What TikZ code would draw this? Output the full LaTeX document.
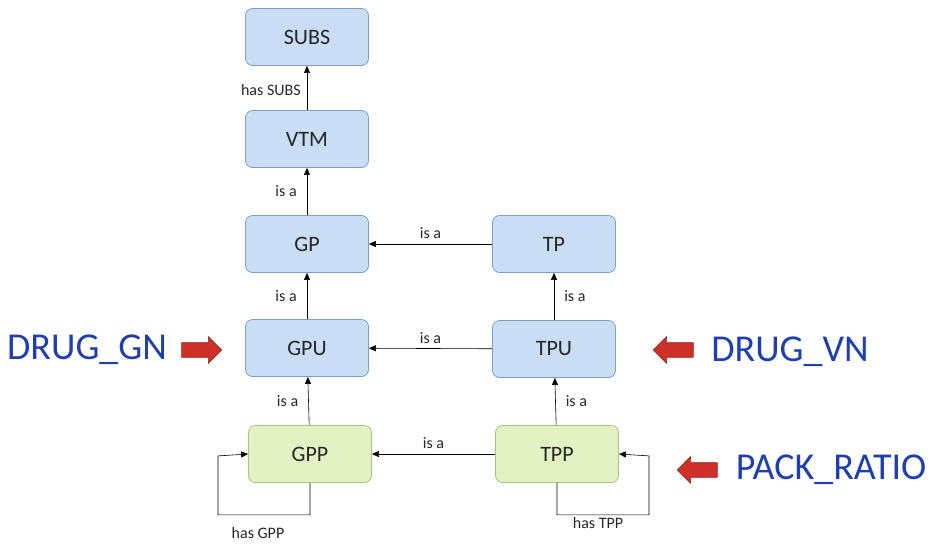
\documentclass[tikz,border=0pt]{standalone}
\usepackage{fontspec}
\setmainfont{Carlito}
\usepackage{tikz}
\usetikzlibrary{arrows.meta,positioning,shapes.arrows}

\definecolor{boxblue}{HTML}{C9DDF5}
\definecolor{lineblue}{HTML}{7E9FC6}
\definecolor{boxgreen}{HTML}{E3F2C2}
\definecolor{linegreen}{HTML}{A9C47E}
\definecolor{tagblue}{HTML}{1F3FAE}
\definecolor{arrred}{HTML}{D0302A}

\begin{document}
\begin{tikzpicture}[
    x=1pt, y=-1pt,
    box/.style={rectangle, draw=lineblue, fill=boxblue, minimum width=123pt,
                minimum height=57pt, font=\fontsize{22}{26}\selectfont,
                text=black!85, rounded corners=7pt, thick},
    pack/.style={box, draw=linegreen, fill=boxgreen},
    rel/.style={font=\fontsize{16}{19}\selectfont, text=black!85, inner sep=2pt},
    tag/.style={font=\fontsize{38}{44}\selectfont, text=tagblue},
    hint/.style={single arrow, fill=arrred, draw=arrred!70!black,
                 minimum height=40pt, inner xsep=2pt, inner ysep=7pt,
                 single arrow head extend=6pt, single arrow tip angle=90},
    >={Triangle[length=7pt,width=6pt]},
    every path/.append style={semithick}
]
\useasboundingbox (0,0) rectangle (934,547);

% --- Left column ---
\node[box] (subs) at (307,37)  {SUBS};
\node[box] (vtm)  at (307,139) {VTM};
\node[box] (gp)   at (307,244) {GP};
\node[box] (gpu)  at (307,348) {GPU};
\node[pack] (gpp) at (310,454) {GPP};

% --- Right column ---
\node[box] (tp)   at (554,244) {TP};
\node[box] (tpu)  at (554,349) {TPU};
\node[pack] (tpp) at (557,454) {TPP};

% --- Vertical edges ---
\draw[->] (vtm) -- node[rel, left=4pt, pos=0.45] {has SUBS} (subs);
\draw[->] (gp) -- node[rel, left=8pt] {is a} (vtm);
\draw[->] (gpu) -- node[rel, left=8pt] {is a} (gp);
\draw[->] (gpp) -- node[rel, left=8pt] {is a} (gpu);
\draw[->] (tpu) -- node[rel, right=8pt] {is a} (tp);
\draw[->] (tpp) -- node[rel, right=8pt] {is a} (tpu);

% --- Horizontal edges ---
\draw[->] (tp) -- node[rel, above=3pt] {is a} (gp);
\draw[->] (tpu) -- node[rel, above=3pt] {is a} (gpu);
\draw[->] (tpp) -- node[rel, above=3pt] {is a} (gpp);

% --- Self loops ---
\draw[->] (gpp.south) -- ++(0,32) -| ++(-92,-59) node[coordinate] (gl) {} -- (gpp.west);
\node[rel] (hasgpp) at (258,533) {has GPP};
\draw[->] (tpp.south) -- ++(0,32) -| ++(92,-59) node[coordinate] (tl) {} -- (tpp.east);
\node[rel] (hastpp) at (598,523) {has TPP};

% --- Tables ---
\node[tag] (drgn) at (87,350) {DRUG\_GN};
\node[hint] (agn) at (198,350) {};
\node[tag] (drvn) at (790,352) {DRUG\_VN};
\node[hint, shape border rotate=180] (avn) at (677,350) {};
\node[tag] (pack) at (831,470) {PACK\_RATIO};
\node[hint, shape border rotate=180] (apr) at (701,470) {};
\end{tikzpicture}
\end{document}
